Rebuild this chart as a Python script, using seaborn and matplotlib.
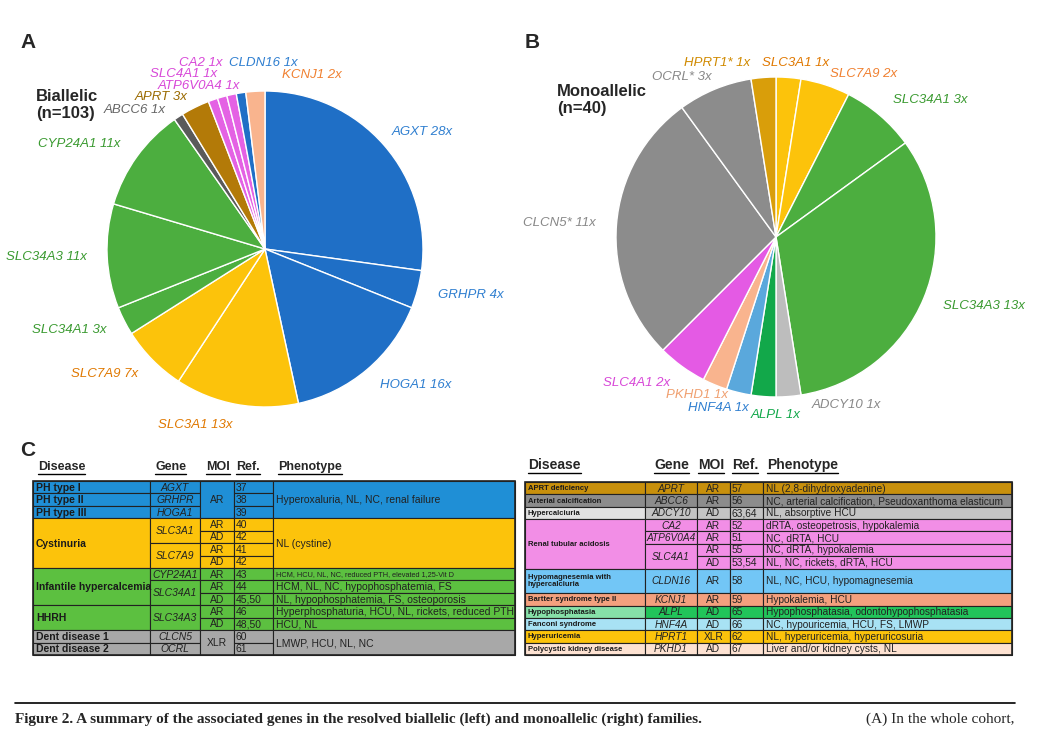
import matplotlib
matplotlib.use("Agg")
import matplotlib.pyplot as plt
import seaborn as sns
from matplotlib.patches import Rectangle

sns.set_theme(style="white")
plt.rcParams['font.family'] = ['Liberation Sans', 'DejaVu Sans']

# ---------------- data ----------------
bi_genes = ["AGXT", "GRHPR", "HOGA1", "SLC3A1", "SLC7A9", "SLC34A1", "SLC34A3", "CYP24A1",
            "ABCC6", "APRT", "ATP6V0A4", "SLC4A1", "CA2", "CLDN16", "KCNJ1"]
bi_counts = [28, 4, 16, 13, 7, 3, 11, 11, 1, 3, 1, 1, 1, 1, 2]
bi_colors = ["#1f6fc6", "#1f6fc6", "#1f6fc6", "#fcc30b", "#fcc30b", "#4cae3f", "#4cae3f", "#4cae3f",
             "#5a5a5a", "#b37a08", "#e462e4", "#e462e4", "#e462e4", "#1f6fc6", "#f9b48e"]
bi_label_colors = ["#2f7fd0", "#2f7fd0", "#2f7fd0", "#e07800", "#e07800", "#3a9a30", "#3a9a30", "#3a9a30",
                   "#666666", "#9a6a00", "#d848d8", "#d848d8", "#d848d8", "#2f7fd0", "#f08030"]

mono_genes = ["SLC3A1", "SLC7A9", "SLC34A1", "SLC34A3", "ADCY10", "ALPL", "HNF4A", "PKHD1",
              "SLC4A1", "CLCN5*", "OCRL*", "HPRT1*"]
mono_counts = [1, 2, 3, 13, 1, 1, 1, 1, 2, 11, 3, 1]
mono_colors = ["#fcc30b", "#fcc30b", "#4cae3f", "#4cae3f", "#bdbdbd", "#12a84a", "#5aa8dc", "#f9b48e",
               "#e45ae4", "#8c8c8c", "#8c8c8c", "#d99e0a"]
mono_label_colors = ["#e07800", "#f08030", "#3a9a30", "#3a9a30", "#888888", "#12a84a", "#2f7fd0", "#f0a070",
                     "#d848d8", "#888888", "#888888", "#d08a00"]

# Table C left: row colours and column spans (text, nrows)
L_rows = ["#1f8fd6"] * 3 + ["#fcc30b"] * 4 + ["#5cc040"] * 5 + ["#a8a8a8"] * 2
L_disease = [("PH type I", 1), ("PH type II", 1), ("PH type III", 1), ("Cystinuria", 4),
             ("Infantile hypercalcemia", 3), ("HHRH", 2), ("Dent disease 1", 1), ("Dent disease 2", 1)]
L_gene = [("AGXT", 1), ("GRHPR", 1), ("HOGA1", 1), ("SLC3A1", 2), ("SLC7A9", 2), ("CYP24A1", 1),
          ("SLC34A1", 2), ("SLC34A3", 2), ("CLCN5", 1), ("OCRL", 1)]
L_moi = [("AR", 3), ("AR", 1), ("AD", 1), ("AR", 1), ("AD", 1), ("AR", 1), ("AR", 1), ("AD", 1),
         ("AR", 1), ("AD", 1), ("XLR", 2)]
L_ref = [(r, 1) for r in ["37", "38", "39", "40", "42", "41", "42", "43", "44", "45,50", "46", "48,50", "60", "61"]]
L_pheno = [("Hyperoxaluria, NL, NC, renal failure", 3), ("NL (cystine)", 4),
           ("HCM, HCU, NL, NC, reduced PTH, elevated 1,25-Vit D", 1),
           ("HCM, NL, NC, hypophosphatemia, FS", 1), ("NL, hypophosphatemia, FS, osteoporosis", 1),
           ("Hyperphosphaturia, HCU, NL, rickets, reduced PTH", 1), ("HCU, NL", 1),
           ("LMWP, HCU, NL, NC", 2)]

R_rows = ["#c8900c", "#8c8c8c", "#c4c4c4"] + ["#f28ee6"] * 4 + ["#72c6f6"] * 2 + \
         ["#f3a07e", "#22c45a", "#a8e2f4", "#fcc30b", "#fde2d2"]
R_disease = [("APRT deficiency", 1), ("Arterial calcification", 1), ("Hypercalciuria", 1),
             ("Renal tubular acidosis", 4), ("Hypomagnesemia with\nhypercalciuria", 2),
             ("Bartter syndrome type II", 1), ("Hypophosphatasia", 1), ("Fanconi syndrome", 1),
             ("Hyperuricemia", 1), ("Polycystic kidney disease", 1)]
R_gene = [("APRT", 1), ("ABCC6", 1), ("ADCY10", 1), ("CA2", 1), ("ATP6V0A4", 1), ("SLC4A1", 2),
          ("CLDN16", 2), ("KCNJ1", 1), ("ALPL", 1), ("HNF4A", 1), ("HPRT1", 1), ("PKHD1", 1)]
R_moi = [("AR", 1), ("AR", 1), ("AD", 1), ("AR", 1), ("AR", 1), ("AR", 1), ("AD", 1), ("AR", 2),
         ("AR", 1), ("AD", 1), ("AD", 1), ("XLR", 1), ("AD", 1)]
R_ref = [("57", 1), ("56", 1), ("63,64", 1), ("52", 1), ("51", 1), ("55", 1), ("53,54", 1), ("58", 2),
         ("59", 1), ("65", 1), ("66", 1), ("62", 1), ("67", 1)]
R_pheno = [("NL (2,8-dihydroxyadenine)", 1), ("NC, arterial calcification, Pseudoxanthoma elasticum", 1),
           ("NL, absorptive HCU", 1), ("dRTA, osteopetrosis, hypokalemia", 1), ("NC, dRTA, HCU", 1),
           ("NC, dRTA, hypokalemia", 1), ("NL, NC, rickets, dRTA, HCU", 1),
           ("NL, NC, HCU, hypomagnesemia", 2), ("Hypokalemia, HCU", 1),
           ("Hypophosphatasia, odontohypophosphatasia", 1), ("NC, hypouricemia, HCU, FS, LMWP", 1),
           ("NL, hyperuricemia, hyperuricosuria", 1), ("Liver and/or kidney cysts, NL", 1)]
R_disease_colors = ["#c8900c", "#8c8c8c", "#e2e2e2", "#f28ee6", "#72c6f6", "#f3a07e", "#86e0a8",
                    "#a8e2f4", "#fcc30b", "#fde2d2"]

headers = ["Disease", "Gene", "MOI", "Ref.", "Phenotype"]

# ---------------- figure ----------------
W, H = 1047, 733
fig = plt.figure(figsize=(W / 100, H / 100), dpi=100)
fig.patch.set_facecolor("white")


def pie_axes(cx, cy, r):
    s = 3.2 * r
    ax = fig.add_axes([(cx - s / 2) / W, (H - cy - s / 2) / H, s / W, s / H])
    return ax


def draw_pie(ax, genes, counts, colors, lcolors, overrides):
    labels = [f"{g} {c}x" for g, c in zip(genes, counts)]
    wedges, texts = ax.pie(counts, colors=colors, labels=labels, startangle=90, counterclock=False,
                           labeldistance=1.13, radius=1.0,
                           wedgeprops=dict(edgecolor="white", linewidth=1.0),
                           textprops=dict(fontsize=9.5, style="italic"))
    ax.set_xlim(-1.6, 1.6)
    ax.set_ylim(-1.6, 1.6)
    ax.set_aspect("equal")
    ax.axis("off")
    for t, c in zip(texts, lcolors):
        t.set_color(c)
    for i, (x, y, ha) in overrides.items():
        texts[i].set_position((x, y))
        texts[i].set_ha(ha)


axA = pie_axes(265, 249, 158)
draw_pie(axA, bi_genes, bi_counts, bi_colors, bi_label_colors,
         {0: (0.80, 0.74, "left"), 8: (-0.63, 0.88, "right"), 9: (-0.49, 0.96, "right"),
          10: (-0.16, 1.03, "right"), 11: (-0.30, 1.11, "right"), 12: (-0.27, 1.18, "right"),
          13: (-0.23, 1.18, "left"), 14: (0.11, 1.10, "left")})
axB = pie_axes(776, 237, 160)
draw_pie(axB, mono_genes, mono_counts, mono_colors, mono_label_colors,
         {0: (-0.09, 1.09, "left"), 1: (0.34, 1.02, "left"), 11: (-0.16, 1.09, "right"),
          10: (-0.40, 1.0, "right"), 4: (0.22, -1.05, "left"), 5: (0.0, -1.11, "center"),
          6: (-0.17, -1.07, "right"), 7: (-0.30, -0.99, "right")})

# ---------------- text / table layer ----------------
ov = fig.add_axes([0, 0, 1, 1])
ov.set_xlim(0, W)
ov.set_ylim(H, 0)
ov.axis("off")

for lab, x, y in [("A", 20, 42), ("B", 525, 42), ("C", 20, 450)]:
    ov.text(x, y, lab, fontsize=15, fontweight="bold", va="center")
ov.text(36, 105, "Biallelic\n(n=103)", fontsize=12, fontweight="bold", va="center", ha="left", linespacing=1.2)
ov.text(557, 100, "Monoallelic\n(n=40)", fontsize=12, fontweight="bold", va="center", ha="left", linespacing=1.2)


def draw_table(x_edges, y0, y1, row_colors, cols, dis_colors=None, dis_size=8, hdr_size=10,
               hdr_x=None, hdr_y=None, small=7.5, tiny=5.3):
    nrows = len(row_colors)
    rh = (y1 - y0) / nrows
    for ci, col in enumerate(cols):
        xa, xb = x_edges[ci], x_edges[ci + 1]
        r = 0
        for k, (txt, n) in enumerate(col):
            color = row_colors[r]
            if ci == 0 and dis_colors is not None:
                color = dis_colors[k]
            ov.add_patch(Rectangle((xa, y0 + r * rh), xb - xa, n * rh, facecolor=color,
                                   edgecolor="#222222", linewidth=0.8))
            yc = y0 + (r + n / 2) * rh + 0.5
            if ci == 0:
                ov.text(xa + 3, yc, txt, fontsize=dis_size, fontweight="bold", va="center",
                        ha="left", color="#1a1a1a", linespacing=1.0)
            elif ci == 1:
                ov.text((xa + xb) / 2, yc, txt, fontsize=small, style="italic", va="center",
                        ha="center", color="#222")
            elif ci == 2:
                ov.text((xa + xb) / 2, yc, txt, fontsize=small, va="center", ha="center", color="#222")
            elif ci == 3:
                ov.text(xa + 2, yc, txt, fontsize=small, va="center", ha="left", color="#222")
            else:
                fs = tiny if len(txt) > 48 and row_colors is L_rows else small
                ov.text(xa + 3, yc, txt, fontsize=fs, va="center", ha="left", color="#222")
            r += n
    ov.add_patch(Rectangle((x_edges[0], y0), x_edges[-1] - x_edges[0], y1 - y0, fill=False,
                           edgecolor="#222", linewidth=1.2))
    fig.canvas.draw()
    rend = fig.canvas.get_renderer()
    for h, hx in zip(headers, hdr_x):
        t = ov.text(hx, hdr_y, h, fontsize=hdr_size, fontweight="bold", va="center", ha="left")
        bb = t.get_window_extent(rend)
        ov.plot([bb.x0, bb.x1], [hdr_y + hdr_size * 0.8, hdr_y + hdr_size * 0.8], color="black", lw=1)


draw_table([33, 150, 200, 234, 273, 515], 481, 655, L_rows,
           [L_disease, L_gene, L_moi, L_ref, L_pheno],
           dis_size=7.5, hdr_size=9, hdr_x=[38, 155, 206, 236, 278], hdr_y=467)
draw_table([525, 645, 697, 730, 763, 1012], 482, 655, R_rows,
           [R_disease, R_gene, R_moi, R_ref, R_pheno], dis_colors=R_disease_colors,
           dis_size=5.5, hdr_size=10, hdr_x=[528, 654, 698, 732, 767], hdr_y=465, small=7.3)

ov.plot([15, 1015], [703, 703], color="black", lw=1.2)
ov.text(15, 719, "Figure 2. A summary of the associated genes in the resolved biallelic (left) and monoallelic (right) families.",
        fontsize=11, fontweight="bold", family=["Liberation Serif"], va="center", ha="left")
ov.text(1015, 719, "(A) In the whole cohort,", fontsize=11, family=["Liberation Serif"], va="center", ha="right")

fig.savefig("out.png", dpi=100, facecolor="white")
